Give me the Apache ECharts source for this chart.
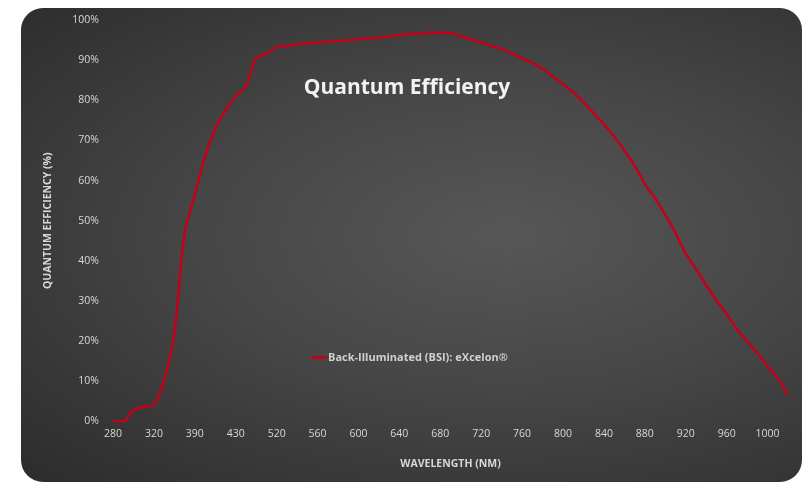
<!DOCTYPE html>
<html>
<head>
	<meta charset="utf-8">
	<title>Quantum Efficiency</title>
	<script src="https://cdn.jsdelivr.net/npm/echarts@6/dist/echarts.min.js"></script>
	<style>
		html, body { margin: 0; padding: 0; background: #fff; }
		#card {
			position: absolute; left: 21px; top: 8px; width: 781px; height: 474px;
			border-radius: 22px;
			background: radial-gradient(ellipse at 62% 48%, #575757 0%, #464646 45%, #2c2c2c 100%);
		}
		#chart { position: absolute; left: 0; top: 0; width: 804px; height: 484px; }
	</style>
</head>
<body>
<div id="card"></div>
<div id="chart"></div>
<script>
	// wavelength categories (nm), only every 4th one gets a label
	var wavelengths = ['280','290','300','310','320','330','340','350','390','400','410','420','430','450','470','500',
		'520','530','540','550','560','570','580','590','600','610','620','630','640','650','660','670','680',
		'690','700','710','720','730','740','750','760','770','780','790','800','810','820','830','840',
		'850','860','870','880','890','900','910','920','930','940','950','960','970','980','990','1000','1010','1020'];
	// quantum efficiency (%)
	var qeBsi = [0, 0, 2.9, 3.6, 4.2, 10.3, 22, 47, 56.5, 66, 73, 77.5, 81, 83.5, 90.5, 91.5,
		93.3, 93.6, 93.9, 94.2, 94.4, 94.6, 94.8, 95.0, 95.2, 95.4, 95.6, 95.9, 96.2, 96.5, 96.6, 96.8, 96.8,
		96.7, 96.0, 95.2, 94.4, 93.6, 92.8, 91.7, 90.4, 89.3, 87.8, 86, 84, 82, 79.5, 76.8, 74,
		71, 67.5, 63.8, 59.2, 55.6, 51.5, 47, 41.8, 38, 34, 30.2, 26.8, 23, 20, 17, 13.8, 10.8, 6.6];
	var yTicks = [0, 10, 20, 30, 40, 50, 60, 70, 80, 90, 100];

	var chart = echarts.init(document.getElementById('chart'));
	var labelFont = 'Open Sans';
	chart.setOption({
		backgroundColor: 'transparent',
		title: {
			text: 'Quantum Efficiency',
			left: 402, top: 73, textAlign: 'center',
			textStyle: { color: '#f2f2f2', fontSize: 21, fontWeight: 'bold', fontFamily: labelFont }
		},
		legend: {
			data: ['Back-Illuminated (BSI): eXcelon®'],
			left: 306, top: 347,
			icon: 'rect', itemWidth: 16, itemHeight: 3, itemGap: 2,
			textStyle: { color: '#d0d0d0', fontSize: 11, fontWeight: 'bold', fontFamily: labelFont, padding: [0, 0, 0, -4] }
		},
		grid: { left: 113, right: 16, top: 20, bottom: 62.5 },
		xAxis: {
			type: 'category',
			data: wavelengths,
			boundaryGap: false,
			name: 'WAVELENGTH (NM)',
			nameLocation: 'middle',
			nameGap: 37,
			nameTextStyle: { color: '#d8d8d8', fontSize: 10.5, fontWeight: 'bold', fontFamily: labelFont },
			axisLine: { show: false },
			axisTick: { show: false },
			splitLine: { show: false },
			axisLabel: { interval: 3, color: '#d8d8d8', fontSize: 10.5, fontFamily: labelFont, margin: 7 }
		},
		yAxis: {
			type: 'value',
			min: yTicks[0], max: yTicks[yTicks.length - 1], interval: 10,
			name: 'QUANTUM EFFICIENCY (%)',
			nameLocation: 'middle',
			nameGap: 59,
			nameTextStyle: { color: '#d8d8d8', fontSize: 10.5, fontWeight: 'bold', fontFamily: labelFont },
			axisLine: { show: false },
			axisTick: { show: false },
			splitLine: { show: false },
			axisLabel: { color: '#d8d8d8', fontSize: 10.5, fontFamily: labelFont, margin: 14, formatter: '{value}%' }
		},
		series: [{
			name: 'Back-Illuminated (BSI): eXcelon®',
			type: 'line',
			data: qeBsi,
			smooth: 0.3,
			symbol: 'none',
			lineStyle: { color: '#c4001a', width: 2.5 },
			itemStyle: { color: '#c4001a' }
		}]
	});
</script>
</body>
</html>
